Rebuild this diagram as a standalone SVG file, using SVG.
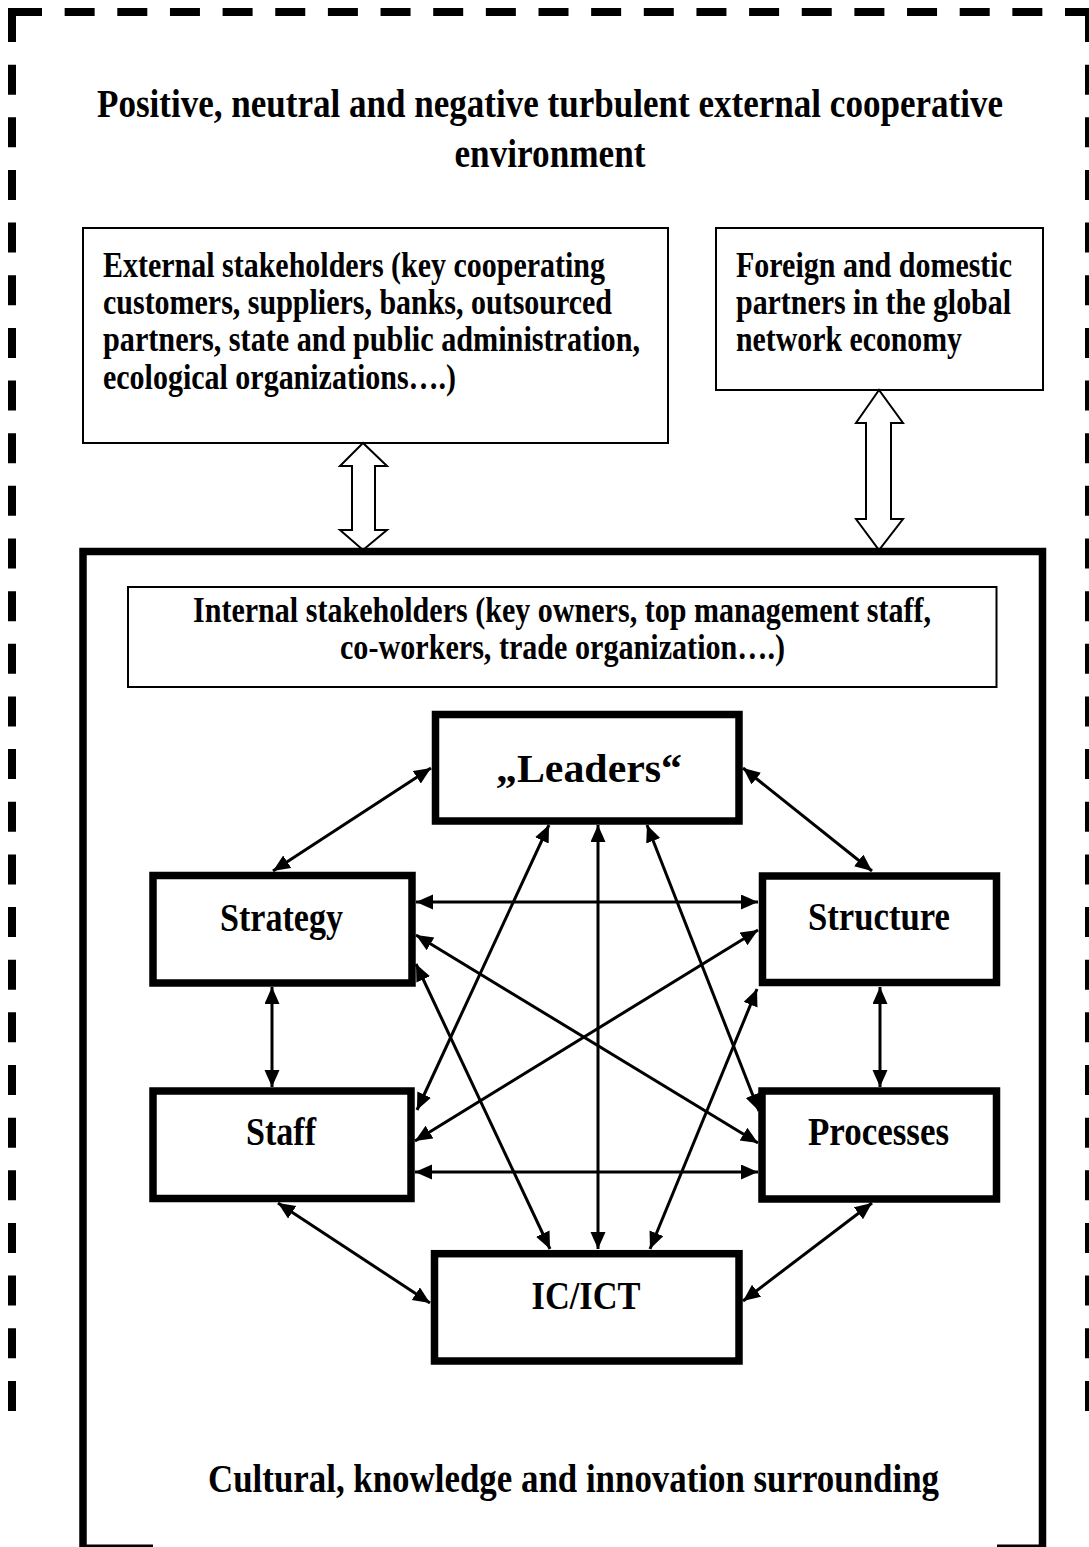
<svg xmlns="http://www.w3.org/2000/svg" width="1089" height="1547" viewBox="0 0 1089 1547">
  <style>
    .t { font-family: "Liberation Serif", "Times New Roman", serif; font-weight: bold; fill: #000; }
    .title { font-size: 41px; }
    .small { font-size: 35px; }
    .node-label { font-size: 41px; }
    .thin { fill: #fff; stroke: #000; stroke-width: 2; }
    .node { fill: #fff; stroke: #000; stroke-width: 7.5; }
    .dash { fill: none; stroke: #000; stroke-width: 8; stroke-dasharray: 30 22.65; }
    .link { fill: none; stroke: #000; stroke-width: 3; marker-start: url(#head); marker-end: url(#head); }
  </style>
  <defs>
    <marker id="head" markerUnits="userSpaceOnUse" markerWidth="18" markerHeight="16" refX="17" refY="7.5" orient="auto-start-reverse">
      <path d="M0,0 L17,7.5 L0,15 z" fill="#000"/>
    </marker>
  </defs>

  <rect width="1089" height="1547" fill="#fff"/>

  <!-- outer dashed environment frame (open at the bottom) -->
  <g id="environment-frame">
    <path class="dash" d="M12,12 V1411"/>
    <path class="dash" d="M12,12 H1089"/>
    <path class="dash" d="M1089,12 V1411"/>
    <path d="M12,42 V12 H42" fill="none" stroke="#000" stroke-width="8" stroke-linejoin="miter"/>
    <text class="t title" x="550" y="117" text-anchor="middle" textLength="906" lengthAdjust="spacingAndGlyphs">Positive, neutral and negative turbulent external cooperative</text>
    <text class="t title" x="550" y="167" text-anchor="middle" textLength="191" lengthAdjust="spacingAndGlyphs">environment</text>
  </g>

  <!-- external stakeholders -->
  <g id="external-stakeholders">
    <rect class="thin" x="83" y="228" width="585" height="215"/>
    <text class="t small" x="103" y="277" textLength="502" lengthAdjust="spacingAndGlyphs">External stakeholders (key cooperating</text>
    <text class="t small" x="103" y="314" textLength="509" lengthAdjust="spacingAndGlyphs">customers, suppliers, banks, outsourced</text>
    <text class="t small" x="103" y="351" textLength="537" lengthAdjust="spacingAndGlyphs">partners, state and public administration,</text>
    <text class="t small" x="103" y="389" textLength="353" lengthAdjust="spacingAndGlyphs">ecological organizations….)</text>
  </g>

  <!-- foreign and domestic partners -->
  <g id="global-partners">
    <rect class="thin" x="716" y="228" width="327" height="162"/>
    <text class="t small" x="736" y="277" textLength="276" lengthAdjust="spacingAndGlyphs">Foreign and domestic</text>
    <text class="t small" x="736" y="314" textLength="275" lengthAdjust="spacingAndGlyphs">partners in the global</text>
    <text class="t small" x="736" y="351" textLength="226" lengthAdjust="spacingAndGlyphs">network economy</text>
  </g>

  <!-- hollow two-way arrows into the organisation -->
  <g id="exchange-arrows">
    <polygon class="thin" points="363,443 340,466 352,466 352,530 340,530 363,550 387,530 375,530 375,466 387,466"/>
    <polygon class="thin" points="879,390 856,423 866,423 866,519 856,519 879,550 903,519 891,519 891,423 903,423"/>
  </g>

  <!-- organisation boundary -->
  <g id="organisation">
    <path d="M83,1547 V551.5 H1042.5 V1547" fill="none" stroke="#000" stroke-width="7.5" stroke-linejoin="miter"/>
    <path d="M80,1546 H153 M997,1546 H1046" fill="none" stroke="#000" stroke-width="3"/>
    <text class="t title" x="573.5" y="1492" text-anchor="middle" textLength="731" lengthAdjust="spacingAndGlyphs">Cultural, knowledge and innovation surrounding</text>
  </g>

  <!-- internal stakeholders -->
  <g id="internal-stakeholders">
    <rect class="thin" x="128" y="587" width="868.5" height="100"/>
    <text class="t small" x="562" y="622" text-anchor="middle" textLength="738" lengthAdjust="spacingAndGlyphs">Internal stakeholders (key owners, top management staff,</text>
    <text class="t small" x="562.5" y="659" text-anchor="middle" textLength="445" lengthAdjust="spacingAndGlyphs">co-workers, trade organization….)</text>
  </g>

  <!-- connectors between the six elements -->
  <g id="connectors">
    <line class="link" x1="431" y1="768" x2="273" y2="871"/>
    <line class="link" x1="743" y1="768" x2="872" y2="871"/>
    <line class="link" x1="416" y1="902" x2="758" y2="902"/>
    <line class="link" x1="416" y1="935" x2="758" y2="1143"/>
    <line class="link" x1="416" y1="964" x2="550" y2="1249"/>
    <line class="link" x1="272" y1="987" x2="272" y2="1087"/>
    <line class="link" x1="880" y1="987" x2="880" y2="1087"/>
    <line class="link" x1="415" y1="1172" x2="758" y2="1172"/>
    <line class="link" x1="758" y1="930" x2="415" y2="1141"/>
    <line class="link" x1="549" y1="825" x2="417" y2="1110"/>
    <line class="link" x1="278" y1="1203" x2="430" y2="1303"/>
    <line class="link" x1="872" y1="1203" x2="743" y2="1301"/>
    <line class="link" x1="598" y1="825" x2="598" y2="1249"/>
    <line class="link" x1="647" y1="825" x2="759" y2="1111"/>
    <line class="link" x1="757" y1="989" x2="650" y2="1249"/>
  </g>

  <g id="leaders">
    <rect class="node" x="435.5" y="714.5" width="303.5" height="106.5"/>
    <text class="t node-label" x="589" y="782" text-anchor="middle" textLength="186" lengthAdjust="spacingAndGlyphs">„Leaders“</text>
  </g>
  <g id="strategy">
    <rect class="node" x="153" y="875.5" width="259" height="107.5"/>
    <text class="t node-label" x="281.5" y="931" text-anchor="middle" textLength="123" lengthAdjust="spacingAndGlyphs">Strategy</text>
  </g>
  <g id="structure">
    <rect class="node" x="762.5" y="876" width="234" height="106.5"/>
    <text class="t node-label" x="879" y="930" text-anchor="middle" textLength="142" lengthAdjust="spacingAndGlyphs">Structure</text>
  </g>
  <g id="staff">
    <rect class="node" x="153" y="1091" width="258" height="107.5"/>
    <text class="t node-label" x="281" y="1145" text-anchor="middle" textLength="70" lengthAdjust="spacingAndGlyphs">Staff</text>
  </g>
  <g id="processes">
    <rect class="node" x="762" y="1091" width="234.5" height="108"/>
    <text class="t node-label" x="878.5" y="1145" text-anchor="middle" textLength="141" lengthAdjust="spacingAndGlyphs">Processes</text>
  </g>
  <g id="ic-ict">
    <rect class="node" x="434.5" y="1253.7" width="304.5" height="107.3"/>
    <text class="t node-label" x="586" y="1309" text-anchor="middle" textLength="109" lengthAdjust="spacingAndGlyphs">IC/ICT</text>
  </g>
</svg>
